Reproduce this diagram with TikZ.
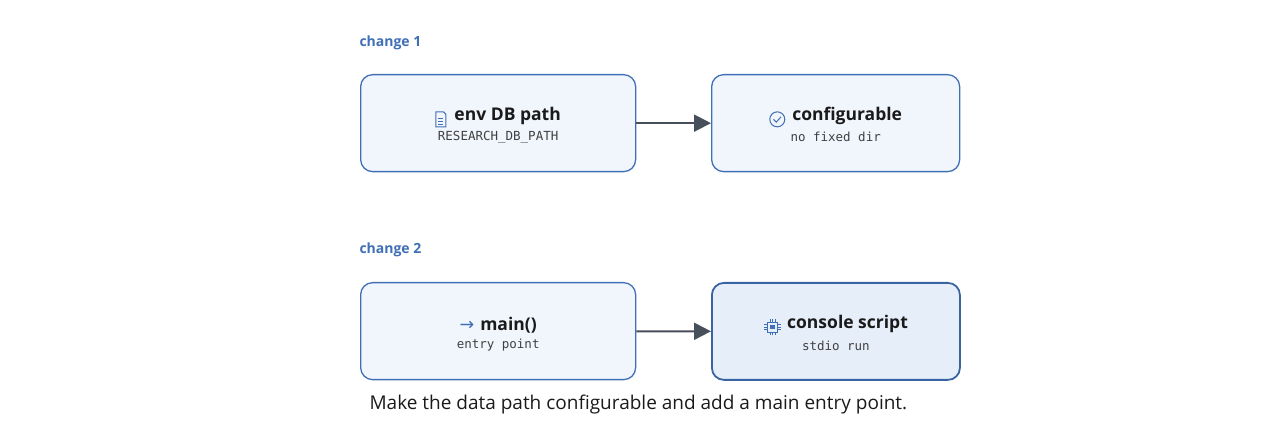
\documentclass[tikz,border=0pt]{standalone}
\usepackage{fontspec}
\setmainfont{Open Sans}
\setmonofont{DejaVu Sans Mono}
\newfontfamily\symfont{DejaVu Sans}
\usetikzlibrary{calc,arrows.meta,positioning}
\definecolor{edgeblue}{HTML}{3F6FB5}
\definecolor{fillblue}{HTML}{F1F5FC}
\definecolor{fillhi}{HTML}{E6EEFA}
\definecolor{inkdark}{HTML}{1A1A1A}
\definecolor{arrowgray}{HTML}{474F5A}
\newcommand{\icdoc}{\tikz[baseline=-1pt,x=1.25pt,y=1.25pt,edgeblue,line width=1pt]{\draw (-4,-6) -- (-4,6) -- (2,6) -- (4,4) -- (4,-6) -- cycle; \draw (-2,1)--(2,1) (-2,-1.5)--(2,-1.5) (-2,-4)--(2,-4);}}
\newcommand{\iccheck}{\tikz[baseline=-1pt,x=1.25pt,y=1.25pt,edgeblue,line width=1pt]{\draw (0,0) circle (6); \draw (-3,0) -- (-0.8,-2.2) -- (3,2);}}
\newcommand{\icchip}{\tikz[baseline=-1pt,x=1.25pt,y=1.25pt,edgeblue,line width=1pt]{\draw (-4,-4) rectangle (4,4); \fill (-1.8,-1.8) rectangle (1.8,1.8); \foreach \p in {-2,0,2}{\draw (\p,4)--(\p,6.5) (\p,-4)--(\p,-6.5) (4,\p)--(6.5,\p) (-4,\p)--(-6.5,\p);}}}
\newcommand{\icarrow}{{\symfont\mdseries\color{edgeblue}→}}
\tikzset{
  box/.style={draw=edgeblue, fill=fillblue, rounded corners=12pt, line width=1.3pt, minimum width=275pt, minimum height=97pt, anchor=north west},
  hibox/.style={box, fill=fillhi, line width=1.8pt, draw=edgeblue!90!black},
  head/.style={font=\fontsize{17.5}{20}\selectfont\bfseries, text=inkdark},
  sub/.style={font=\ttfamily\fontsize{12.5}{14}\selectfont, text=black!75},
  tag/.style={font=\fontsize{14}{16}\selectfont\bfseries, text=edgeblue, anchor=west},
  flow/.style={-{Triangle[length=17pt,width=17pt]}, line width=2pt, arrowgray}
}
\begin{document}
\begin{tikzpicture}[x=1pt,y=-1pt]
\useasboundingbox (0,0) rectangle (1280,435);
\node[tag] (tag1) at (356,43) {change 1};
\node[tag] (tag2) at (356,250) {change 2};

\node[box] (envpath) at (360,74) {};
\node[box, minimum width=248pt] (config) at (711,74) {};
\node[box] (mainfn) at (360,282) {};
\node[hibox, minimum width=248pt] (console) at (711,282) {};

\node[head] at ($(envpath.center)+(0,-6)$) {\icdoc\hspace{8pt}env DB path};
\node[sub] at ($(envpath.center)+(0,14)$) {RESEARCH\_DB\_PATH};
\node[head] at ($(config.center)+(0,-6)$) {\iccheck\hspace{7pt}configurable};
\node[sub] at ($(config.center)+(0,14)$) {no fixed dir};
\node[head] at ($(mainfn.center)+(0,-6)$) {\icarrow\hspace{6pt}main()};
\node[sub] at ($(mainfn.center)+(0,14)$) {entry point};
\node[head] at ($(console.center)+(0,-6)$) {\icchip\hspace{6pt}console script};
\node[sub] at ($(console.center)+(0,14)$) {stdio run};

\draw[flow] (envpath) -- (config);
\draw[flow] (mainfn) -- (console);

\node[anchor=west, font=\fontsize{19}{22}\selectfont, text=inkdark] (caption) at (366,405) {Make the data path configurable and add a main entry point.};
\end{tikzpicture}
\end{document}
